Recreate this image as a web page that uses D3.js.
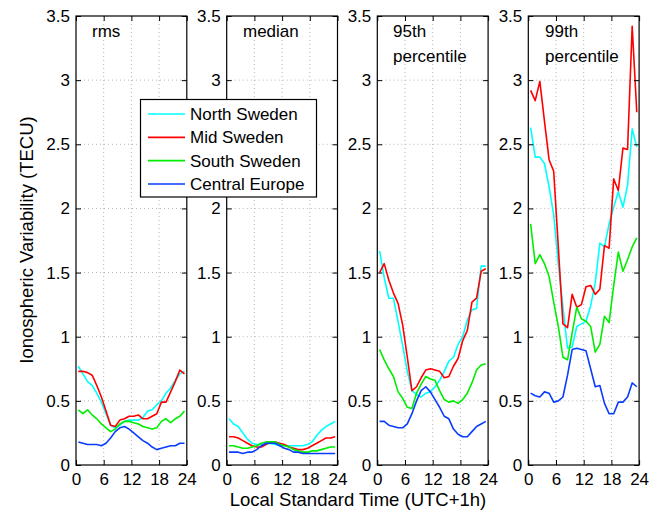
<!DOCTYPE html>
<html>
<head>
<meta charset="utf-8">
<script src="https://cdn.jsdelivr.net/npm/d3@7"></script>
<style>
  html, body { margin: 0; padding: 0; background: #fff; }
  svg { display: block; font-family: "Liberation Sans", Arial, Helvetica, sans-serif; }
</style>
</head>
<body>
<svg id="chart" width="660" height="514"></svg>
<script>
// Hour-of-day sample positions (hourly bins, centred on the half hour)
const hours = d3.range(24).map(h => h + 0.5);

const regions = ["North Sweden", "Mid Sweden", "South Sweden", "Central Europe"];
const regionColors = ["#00ffff", "#ff0000", "#00ee00", "#0a3cff"];

const panelTitles = [["rms"], ["median"], ["95th", "percentile"], ["99th", "percentile"]];

const xTicks = [0, 6, 12, 18, 24];
const yTicks = [0, 0.5, 1, 1.5, 2, 2.5, 3, 3.5];

// Ionospheric variability (TECU) per region, one array per statistic
const rmsNorth   = [0.77,0.71,0.65,0.62,0.56,0.49,0.40,0.31,0.29,0.31,0.34,0.35,0.35,0.35,0.37,0.42,0.43,0.47,0.50,0.56,0.60,0.66,0.71,0.73];
const rmsMid     = [0.73,0.73,0.72,0.70,0.62,0.53,0.42,0.31,0.30,0.35,0.36,0.38,0.38,0.39,0.36,0.36,0.38,0.40,0.49,0.49,0.57,0.65,0.74,0.71];
const rmsSouth   = [0.43,0.40,0.43,0.39,0.36,0.32,0.29,0.26,0.28,0.32,0.34,0.34,0.33,0.32,0.30,0.29,0.28,0.29,0.34,0.36,0.33,0.36,0.38,0.42];
const rmsCentral = [0.18,0.17,0.16,0.16,0.16,0.15,0.17,0.21,0.26,0.29,0.30,0.28,0.25,0.22,0.19,0.17,0.14,0.12,0.13,0.14,0.15,0.15,0.17,0.17];

const medNorth   = [0.36,0.32,0.30,0.25,0.20,0.17,0.16,0.16,0.16,0.17,0.16,0.15,0.15,0.15,0.15,0.15,0.15,0.16,0.18,0.23,0.27,0.30,0.32,0.34];
const medMid     = [0.22,0.22,0.21,0.19,0.17,0.15,0.14,0.14,0.16,0.18,0.18,0.17,0.16,0.14,0.13,0.12,0.12,0.13,0.15,0.17,0.19,0.21,0.21,0.22];
const medSouth   = [0.15,0.15,0.14,0.13,0.13,0.14,0.15,0.17,0.18,0.18,0.18,0.16,0.15,0.14,0.12,0.11,0.10,0.10,0.11,0.11,0.12,0.13,0.14,0.14];
const medCentral = [0.10,0.10,0.10,0.09,0.10,0.10,0.12,0.15,0.17,0.17,0.17,0.15,0.13,0.12,0.10,0.10,0.09,0.09,0.09,0.09,0.09,0.09,0.09,0.09];

const p95North   = [1.67,1.46,1.30,1.30,1.12,0.93,0.73,0.58,0.55,0.53,0.56,0.57,0.61,0.66,0.73,0.81,0.84,0.94,1.00,1.13,1.21,1.22,1.55,1.55];
const p95Mid     = [1.50,1.57,1.44,1.34,1.26,1.09,0.84,0.58,0.61,0.68,0.74,0.75,0.74,0.73,0.68,0.69,0.77,0.83,0.97,1.05,1.27,1.30,1.51,1.53];
const p95South   = [0.90,0.82,0.75,0.69,0.57,0.52,0.45,0.44,0.56,0.63,0.69,0.67,0.66,0.58,0.51,0.49,0.50,0.48,0.51,0.56,0.64,0.74,0.78,0.79];
const p95Central = [0.34,0.34,0.31,0.30,0.29,0.29,0.32,0.40,0.50,0.58,0.61,0.57,0.51,0.45,0.38,0.36,0.28,0.24,0.22,0.22,0.26,0.30,0.32,0.34];

const p99North   = [2.63,2.40,2.40,2.35,2.17,1.95,1.57,1.23,0.91,0.92,1.08,1.10,1.12,1.24,1.42,1.73,1.70,1.88,2.01,2.13,2.01,2.18,2.62,2.48];
const p99Mid     = [2.92,2.84,2.99,2.68,2.38,2.29,1.70,1.10,1.07,1.33,1.23,1.25,1.39,1.40,1.33,1.37,1.71,1.69,2.23,2.14,2.47,2.46,3.42,2.75];
const p99South   = [1.88,1.57,1.64,1.57,1.47,1.27,1.08,0.84,0.82,1.03,1.23,1.14,1.12,1.08,0.88,0.94,1.16,1.11,1.40,1.66,1.51,1.60,1.70,1.77];
const p99Central = [0.56,0.54,0.53,0.57,0.56,0.49,0.50,0.53,0.70,0.90,0.91,0.90,0.89,0.75,0.61,0.62,0.48,0.40,0.40,0.49,0.49,0.53,0.64,0.61];

const panels = [
  [rmsNorth, rmsMid, rmsSouth, rmsCentral],
  [medNorth, medMid, medSouth, medCentral],
  [p95North, p95Mid, p95South, p95Central],
  [p99North, p99Mid, p99South, p99Central]
];

// Layout
const panelLefts = [76, 226.7, 377.3, 528.3];
const panelWidth = 110.8;
const plotTop = 16, plotBottom = 465;
const tickLen = 5;

// legend box (sits over the gap between the first two panels)
const legendBox = { x: 140.5, y: 99.5, w: 176, h: 97.5 };

const svg = d3.select("#chart");

const y = d3.scaleLinear().domain([0, 3.5]).range([plotBottom, plotTop]);

panels.forEach((series, pi) => {
  const left = panelLefts[pi];
  const x = d3.scaleLinear().domain([0, 24]).range([left, left + panelWidth]);
  const g = svg.append("g");

  // dotted grid
  g.append("g").selectAll("line")
    .data(xTicks.slice(1, -1)).join("line")
    .attr("x1", d => x(d)).attr("x2", d => x(d))
    .attr("y1", plotTop).attr("y2", plotBottom)
    .attr("stroke", "#b4b4b4").attr("stroke-width", 1)
    .attr("stroke-dasharray", "1,3");
  g.append("g").selectAll("line")
    .data(yTicks.slice(1, -1)).join("line")
    .attr("x1", left).attr("x2", left + panelWidth)
    .attr("y1", d => y(d)).attr("y2", d => y(d))
    .attr("stroke", "#b4b4b4").attr("stroke-width", 1)
    .attr("stroke-dasharray", "1,3");

  // series lines
  const line = d3.line().x((d, i) => x(hours[i])).y(d => y(d));
  series.forEach((vals, si) => {
    g.append("path")
      .datum(vals)
      .attr("d", line)
      .attr("fill", "none")
      .attr("stroke", regionColors[si])
      .attr("stroke-width", 1.6)
      .attr("stroke-linejoin", "round");
  });

  // y tick labels that would sit fully under the legend box are left blank
  const hiddenByLegend = v => {
    const yy = y(v);
    return left - 10 > legendBox.x && left - 10 < legendBox.x + legendBox.w &&
           yy - 6 > legendBox.y && yy + 6 < legendBox.y + legendBox.h;
  };
  const fmtY = v => hiddenByLegend(v) ? "" : d3.format("")(v);

  // axes with inward ticks on all four sides
  const axL = d3.axisLeft(y).tickValues(yTicks).tickFormat(fmtY).tickSize(-tickLen).tickSizeOuter(0).tickPadding(6);
  const axR = d3.axisRight(y).tickValues(yTicks).tickFormat("").tickSize(-tickLen).tickSizeOuter(0);
  const axB = d3.axisBottom(x).tickValues(xTicks).tickSize(-tickLen).tickSizeOuter(0).tickPadding(8);
  const axT = d3.axisTop(x).tickValues(xTicks).tickFormat("").tickSize(-tickLen).tickSizeOuter(0);

  const styleAxis = sel => {
    sel.select(".domain").remove();
    sel.selectAll("line").attr("stroke", "#000").attr("stroke-width", 1);
    sel.selectAll("text").attr("fill", "#000").style("font-size", "17px").style("font-family", "Liberation Sans, Arial, sans-serif");
    sel.selectAll("text").filter(function () { return this.textContent === ""; }).remove();
  };
  g.append("g").attr("transform", `translate(${left},0)`).call(axL).call(styleAxis);
  g.append("g").attr("transform", `translate(${left + panelWidth},0)`).call(axR).call(styleAxis);
  g.append("g").attr("transform", `translate(0,${plotBottom})`).call(axB).call(styleAxis);
  g.append("g").attr("transform", `translate(0,${plotTop})`).call(axT).call(styleAxis);

  // frame
  g.append("rect")
    .attr("x", left).attr("y", plotTop)
    .attr("width", panelWidth).attr("height", plotBottom - plotTop)
    .attr("fill", "none").attr("stroke", "#000").attr("stroke-width", 1.2);

  // panel title
  const titleX = [92, 243, 393, 545][pi];
  panelTitles[pi].forEach((t, k) => {
    g.append("text")
      .attr("x", titleX).attr("y", 37 + k * 25)
      .style("font-size", "17px")
      .attr("fill", "#000")
      .text(t);
  });
});

// legend
const legend = svg.append("g");
legend.append("rect")
  .attr("x", legendBox.x).attr("y", legendBox.y).attr("width", legendBox.w).attr("height", legendBox.h)
  .attr("fill", "#fff").attr("stroke", "#000").attr("stroke-width", 1.2);
const rowY = d3.scalePoint().domain(regions).range([114, 184]);
regions.forEach((r, i) => {
  legend.append("line")
    .attr("x1", 148).attr("x2", 185)
    .attr("y1", rowY(r)).attr("y2", rowY(r))
    .attr("stroke", regionColors[i]).attr("stroke-width", 1.6);
  legend.append("text")
    .attr("x", 190).attr("y", rowY(r)).attr("dy", "0.36em")
    .style("font-size", "17px").attr("fill", "#000")
    .text(r);
});

// axis titles
svg.append("text")
  .attr("transform", "translate(33,240) rotate(-90)")
  .attr("text-anchor", "middle")
  .style("font-size", "18.5px").attr("fill", "#000")
  .text("Ionospheric Variability (TECU)");
svg.append("text")
  .attr("x", 358).attr("y", 506)
  .attr("text-anchor", "middle")
  .style("font-size", "18.5px").attr("fill", "#000")
  .text("Local Standard Time (UTC+1h)");
</script>
</body>
</html>
